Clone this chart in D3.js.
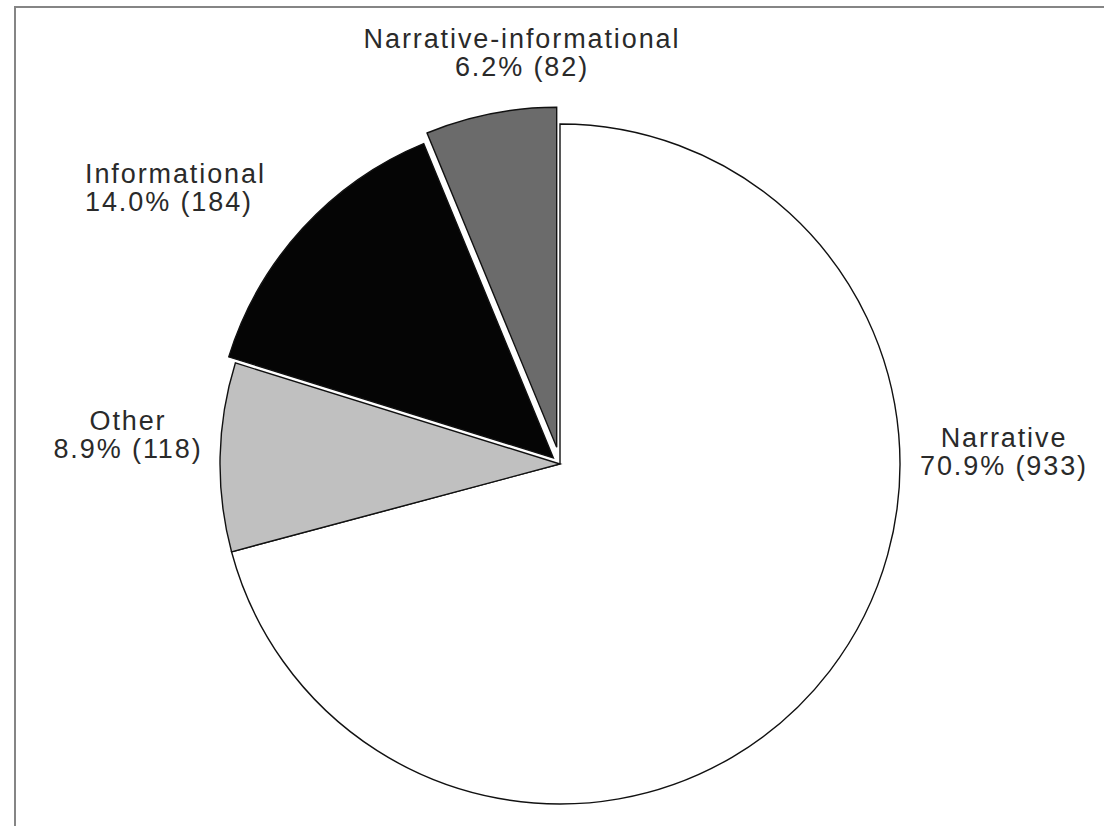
<!DOCTYPE html>
<html>
<head>
<meta charset="utf-8">
<script src="https://cdn.jsdelivr.net/npm/d3@7"></script>
<style>
  html, body { margin: 0; padding: 0; background: #fff; }
  svg { display: block; }
</style>
</head>
<body>
<svg id="chart" width="1104" height="826"></svg>
<script>
// ---- data ----
const categories = ["Narrative", "Other", "Informational", "Narrative-informational"];
const counts = [933, 118, 184, 82];
const percentLabels = ["70.9%", "8.9%", "14.0%", "6.2%"];

// ---- layout / style (not data) ----
const colors = ["#ffffff", "#c0c0c0", "#050505", "#6b6b6b"];
const explode = [0, 0, 9, 17];
const labelLayout = [
  { x: 1004, y: 447, anchor: "middle" },
  { x: 128,  y: 430, anchor: "middle" },
  { x: 85,   y: 183, anchor: "start" },
  { x: 522,  y: 48,  anchor: "middle" }
];

const svg = d3.select("#chart");
const W = 1104, H = 826;

// frame (top & left edges visible)
svg.append("rect")
  .attr("x", 15).attr("y", 7)
  .attr("width", W).attr("height", H)
  .attr("fill", "none")
  .attr("stroke", "#858585")
  .attr("stroke-width", 2);

const cx = 560, cy = 464, r = 340;

const pie = d3.pie().sort(null).value(d => d.value).startAngle(0).endAngle(2 * Math.PI);
const arc = d3.arc().innerRadius(0).outerRadius(r);

const data = categories.map((c, i) => ({ name: c, value: counts[i], pct: percentLabels[i], i }));
const arcs = pie(data);

const g = svg.append("g").attr("transform", `translate(${cx},${cy})`);

g.selectAll("path.slice")
  .data(arcs)
  .join("path")
  .attr("class", "slice")
  .attr("transform", d => {
    const a = (d.startAngle + d.endAngle) / 2;
    const e = explode[d.data.i];
    return `translate(${e * Math.sin(a)},${-e * Math.cos(a)})`;
  })
  .attr("d", arc)
  .attr("fill", d => colors[d.data.i])
  .attr("stroke", "#111")
  .attr("stroke-width", 1.4)
  .attr("stroke-linejoin", "miter");

// labels
const lineGap = 28;
const labels = svg.selectAll("text.lbl")
  .data(data)
  .join("text")
  .attr("class", "lbl")
  .attr("font-family", "'Liberation Sans', Arial, sans-serif")
  .attr("font-size", 27)
  .attr("letter-spacing", "1.9px")
  .attr("fill", "#2a2a2a")
  .attr("text-anchor", d => labelLayout[d.i].anchor);

labels.append("tspan")
  .attr("x", d => labelLayout[d.i].x)
  .attr("y", d => labelLayout[d.i].y)
  .text(d => d.name);

labels.append("tspan")
  .attr("x", d => labelLayout[d.i].x)
  .attr("y", d => labelLayout[d.i].y + lineGap)
  .text(d => `${d.pct} (${d.value})`);
</script>
</body>
</html>
